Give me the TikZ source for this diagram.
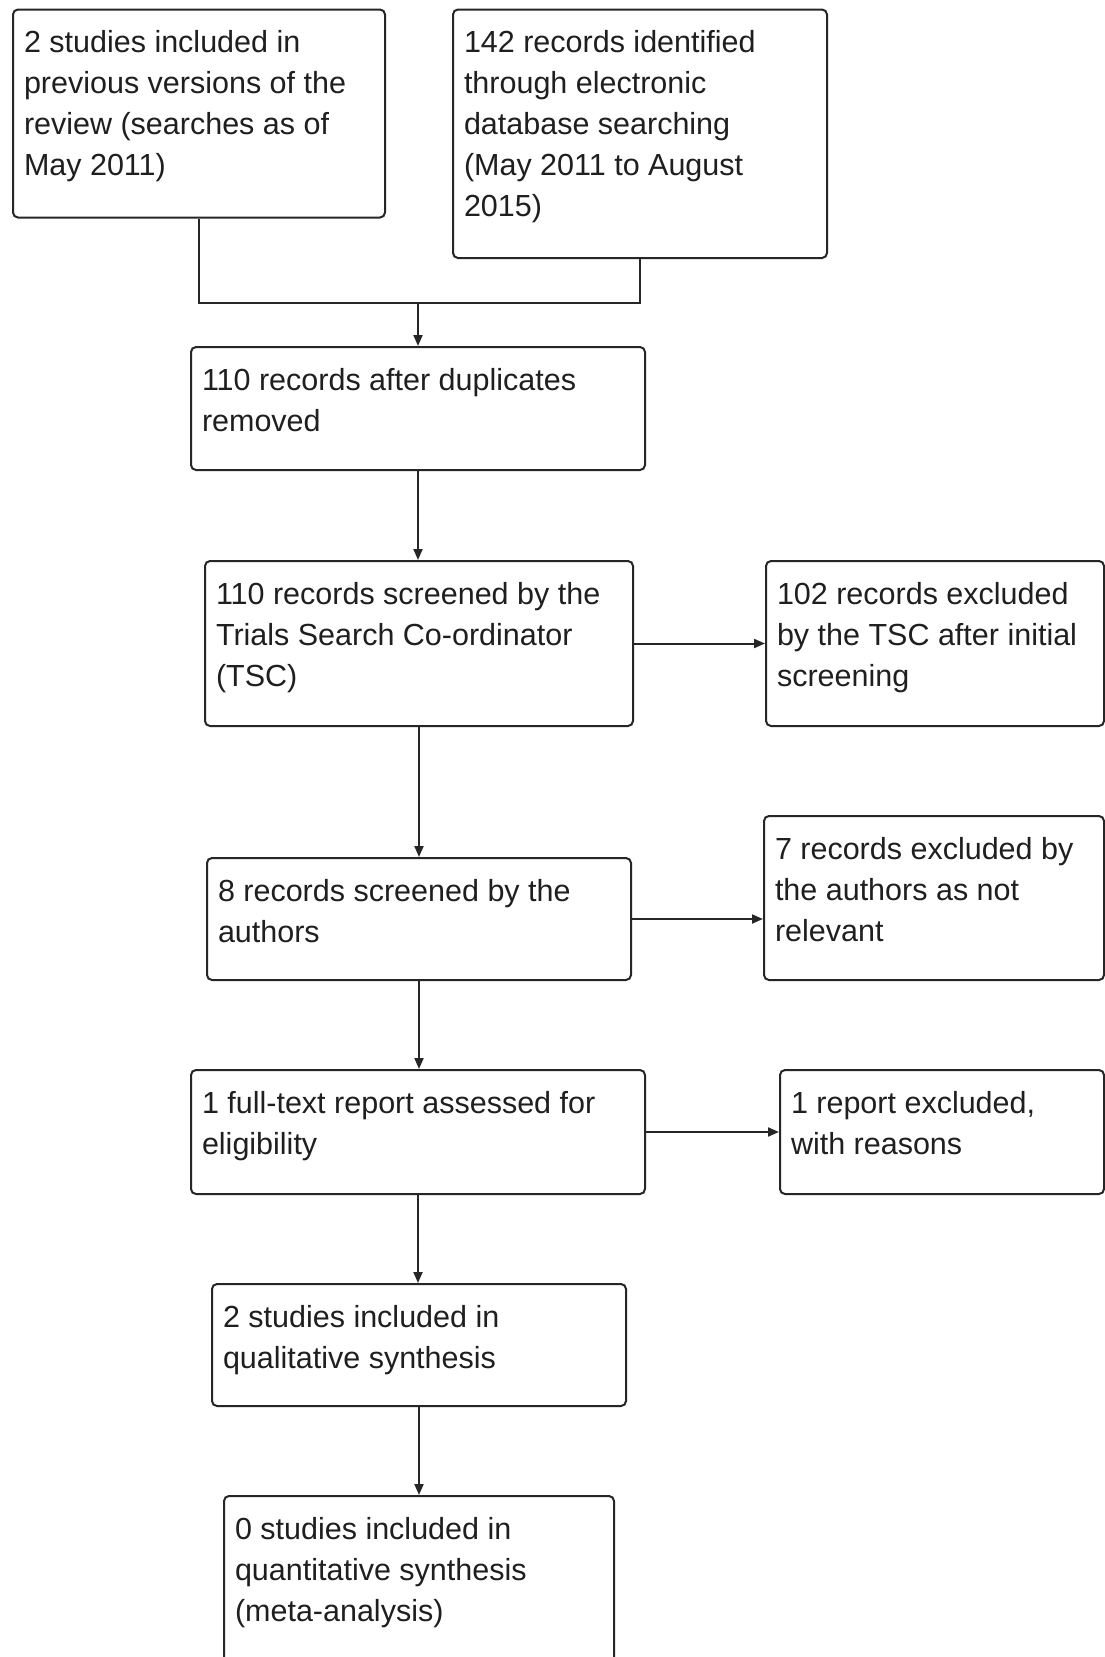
\documentclass[tikz,border=0pt]{standalone}
\usepackage{fontspec}
\setmainfont{Liberation Sans}
\usetikzlibrary{arrows.meta}
\newcommand{\boite}[3]{\parbox[t][#2][t]{#1}{\rule{0pt}{43pt}#3}}
\tikzset{
  etape/.style={draw=black!85,line width=2pt,rounded corners=5pt,anchor=north west,
    inner xsep=11pt,inner ysep=0pt,font=\fontsize{30.5}{41}\selectfont,text=black!88},
  fleche/.style={draw=black!85,line width=2pt,-{Triangle[length=11pt,width=9pt]}},
  trait/.style={draw=black!85,line width=2pt}
}
\begin{document}
\begin{tikzpicture}[x=1pt,y=-1pt]
\useasboundingbox[fill=white] (0,0) rectangle (1104,1657);
% boites de gauche
\node[etape] (prev) at (12,8.5) {\boite{350pt}{208pt}{2 studies included in\\previous versions of the\\review (searches as of\\May 2011)}};
\node[etape] (search) at (452,8.5) {\boite{352pt}{248.5pt}{142 records identified\\through electronic\\database searching\\(May 2011 to August\\2015)}};
\node[etape] (dedup) at (190,346) {\boite{432pt}{123pt}{110 records after duplicates\\removed}};
\node[etape] (screen) at (204,560) {\boite{406pt}{165pt}{110 records screened by the\\Trials Search Co-ordinator\\(TSC)}};
\node[etape] (auth) at (206,857) {\boite{402pt}{122pt}{8 records screened by the\\authors}};
\node[etape] (full) at (190,1069) {\boite{432pt}{124pt}{1 full-text report assessed for\\eligibility}};
\node[etape] (qual) at (211,1283) {\boite{392pt}{122pt}{2 studies included in\\qualitative synthesis}};
\node[etape] (quant) at (223,1495) {\boite{368pt}{185pt}{0 studies included in\\quantitative synthesis\\(meta-analysis)}};
% boites d'exclusion
\node[etape] (excltsc) at (765,560) {\boite{316pt}{165pt}{102 records excluded\\by the TSC after initial\\screening}};
\node[etape] (exclauth) at (763,815) {\boite{318pt}{164pt}{7 records excluded by\\the authors as not\\relevant}};
\node[etape] (exclfull) at (779,1069) {\boite{302pt}{124pt}{1 report excluded,\\with reasons}};
% jonction du haut
\coordinate (join) at (dedup.north |- 0,303);
\draw[trait] (prev.south) |- (join) -| (search.south);
\draw[fleche] (join) -- (dedup.north);
% fleches verticales
\draw[fleche] (dedup.south) -- (dedup.south |- screen.north);
\draw[fleche] (screen.south) -- (screen.south |- auth.north);
\draw[fleche] (auth.south) -- (auth.south |- full.north);
\draw[fleche] (full.south) -- (full.south |- qual.north);
\draw[fleche] (qual.south) -- (qual.south |- quant.north);
% fleches horizontales
\draw[fleche] (screen.east) -- (screen.east -| excltsc.west);
\draw[fleche] (auth.east) -- (auth.east -| exclauth.west);
\draw[fleche] (full.east) -- (full.east -| exclfull.west);
\end{tikzpicture}
\end{document}
